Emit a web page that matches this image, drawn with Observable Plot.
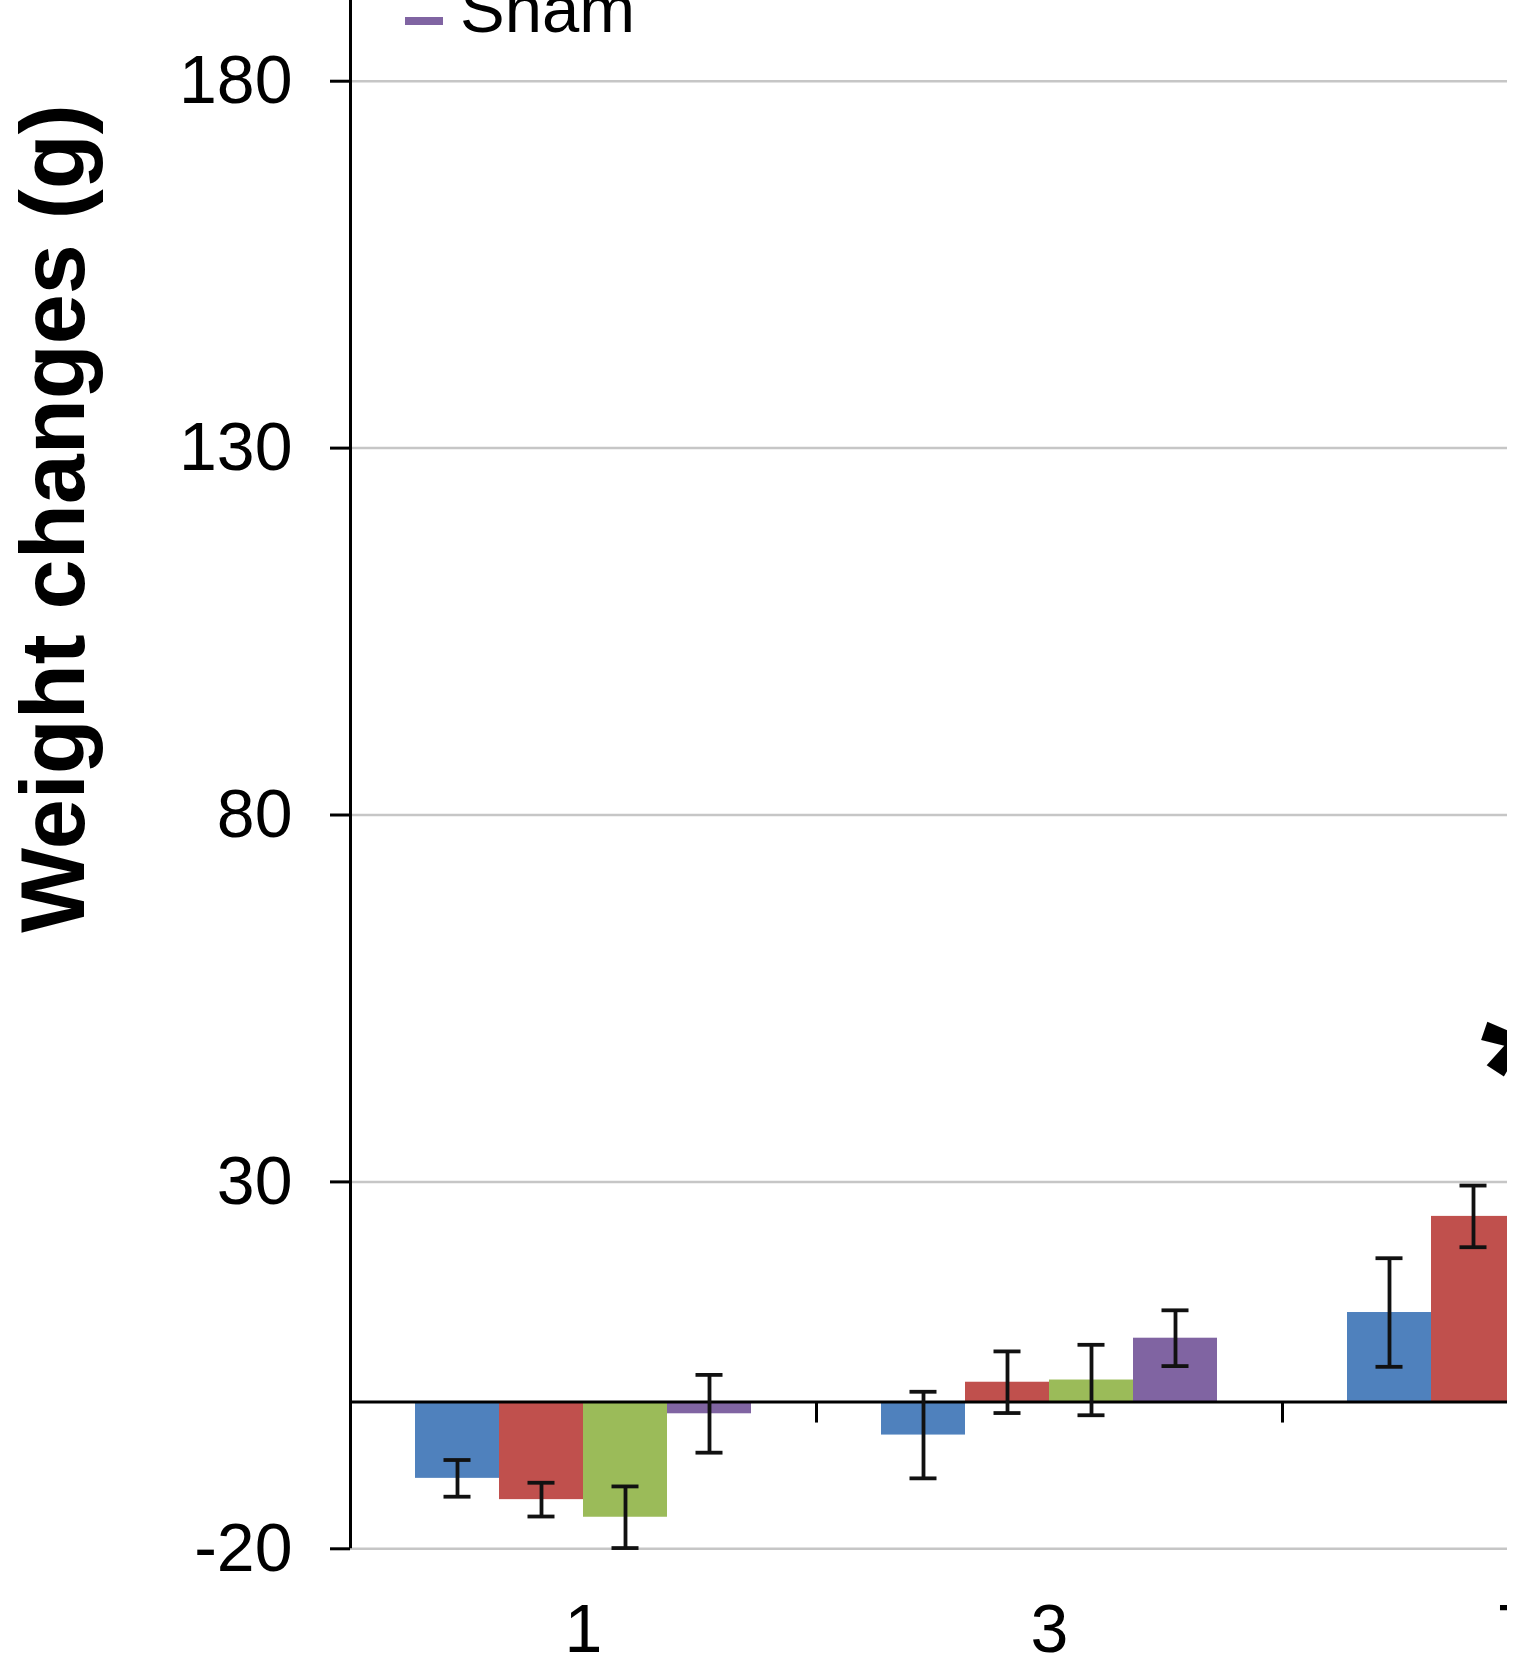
<!DOCTYPE html>
<html>
<head>
<meta charset="utf-8">
<script src="https://cdn.jsdelivr.net/npm/d3@7"></script>
<script src="https://cdn.jsdelivr.net/npm/@observablehq/plot@0.6"></script>
<style>
  html, body { margin: 0; padding: 0; background: #fff; overflow: hidden; }
  #wrap { position: relative; width: 1507px; height: 1665px; overflow: hidden; background: #fff; }
  #wrap svg { max-width: none !important; }
  #legend { position: absolute; left: 405px; top: 17px; font-family: "Liberation Sans", Arial, sans-serif; z-index: 2; }
  #legend .sw { position: absolute; left: 0; top: 0; width: 38px; height: 8px; background: #8064A2; }
  #legend .lb { position: absolute; left: 55px; top: -42px; font-size: 67px; line-height: 67px; color: #000; white-space: nowrap; }
</style>
</head>
<body>
<div id="wrap"><div id="legend"><div class="sw"></div><div class="lb">Sham</div></div></div>
<script>
// ---- data ----
const categories = ["1", "3", "7"];
const series = ["Series 1", "Series 2", "Series 3", "Sham"];
const colors = ["#4F81BD", "#C0504D", "#9BBB59", "#8064A2"];

const day1Values = [-10.4, -13.3, -15.7, -1.6];
const day1Errors = [2.5, 2.3, 4.2, 5.3];
const day3Values = [-4.5, 2.7, 3.0, 8.7];
const day3Errors = [5.9, 4.2, 4.8, 3.8];
const day7Values = [12.2, 25.3];          // only the first two bars are visible
const day7Errors = [7.4, 4.2];

const yTicks = [-20, 30, 80, 130, 180];
const yDomain = [-20, 191];
const yTitle = "Weight changes (g)";
const legendLabel = "Sham";
const significance = [{day: "7", y: 36.2, label: "*"}];

// ---- table built from the arrays ----
const valuesByDay = [day1Values, day3Values, day7Values];
const errorsByDay = [day1Errors, day3Errors, day7Errors];
const rows = [];
categories.forEach((day, i) => {
  valuesByDay[i].forEach((v, j) => {
    rows.push({day, series: series[j], value: v, err: errorsByDay[i][j]});
  });
});

const facetWidth = 466;
const marginLeft = 350;
const width = marginLeft + facetWidth * categories.length;
const height = 1665;
const marginBottom = 116.7;

const chart = Plot.plot({
  width, height,
  marginLeft, marginRight: 0, marginTop: 0, marginBottom,
  style: {fontFamily: "'Liberation Sans', Arial, sans-serif", fontSize: "68px", color: "#000", background: "transparent", maxWidth: "none"},
  fx: {domain: categories, padding: 0},
  x: {domain: series, paddingInner: 0, paddingOuter: 0.77, axis: null},
  y: {domain: yDomain},
  color: {domain: series, range: colors},
  marks: [
    Plot.ruleY(yTicks, {stroke: "#c6c6c6", strokeWidth: 2.5}),
    Plot.barY(rows, {fx: "day", x: "series", y: "value", fill: "series"}),
    Plot.ruleY([0], {stroke: "#000", strokeWidth: 3}),
    // y axis line (left edge of first category)
    Plot.ruleX([categories[0]], {fx: d => d, x: null, dx: -facetWidth / 2, stroke: "#000", strokeWidth: 3}),
    // category separator ticks on the zero line
    Plot.ruleX(categories.slice(1), {fx: d => d, x: null, y1: () => 0, y2: () => 0, insetBottom: -21, dx: -facetWidth / 2, stroke: "#000", strokeWidth: 3}),
    // error bars
    Plot.ruleX(rows, {fx: "day", x: "series", y1: d => d.value - d.err, y2: d => d.value + d.err, stroke: "#111", strokeWidth: 3.8}),
    Plot.tickY(rows, {fx: "day", x: "series", y: d => d.value - d.err, insetLeft: 28.5, insetRight: 28.5, stroke: "#111", strokeWidth: 3.8}),
    Plot.tickY(rows, {fx: "day", x: "series", y: d => d.value + d.err, insetLeft: 28.5, insetRight: 28.5, stroke: "#111", strokeWidth: 3.8}),
    // significance marker
    Plot.text(significance, {fx: "day", y: "y", text: "label", dx: 2, fontSize: 190, fontWeight: "bold", lineAnchor: "bottom", fill: "#000"}),
    // axes
    Plot.axisY(yTicks, {tickSize: 20, tickPadding: 38, fontSize: 68, strokeWidth: 3, label: null, tickFormat: d => String(d)}),
    Plot.axisFx({anchor: "bottom", tickSize: 0, tickPadding: 55, fontSize: 68, label: null}),
    // y axis title
    Plot.text([yTitle], {fx: () => categories[0], frameAnchor: "top-left", rotate: -90, textAnchor: "middle", lineAnchor: "bottom", dx: -267, dy: 518, fontSize: 90, fontWeight: "bold", fill: "#000"})
  ]
});
chart.style.position = "absolute";
chart.style.left = "0";
chart.style.top = "0";
chart.style.maxWidth = "none";
chart.style.width = width + "px";
chart.style.height = height + "px";
const wrap = document.getElementById("wrap");
wrap.insertBefore(chart, wrap.firstChild);
document.querySelector("#legend .lb").textContent = legendLabel;
</script>
</body>
</html>
